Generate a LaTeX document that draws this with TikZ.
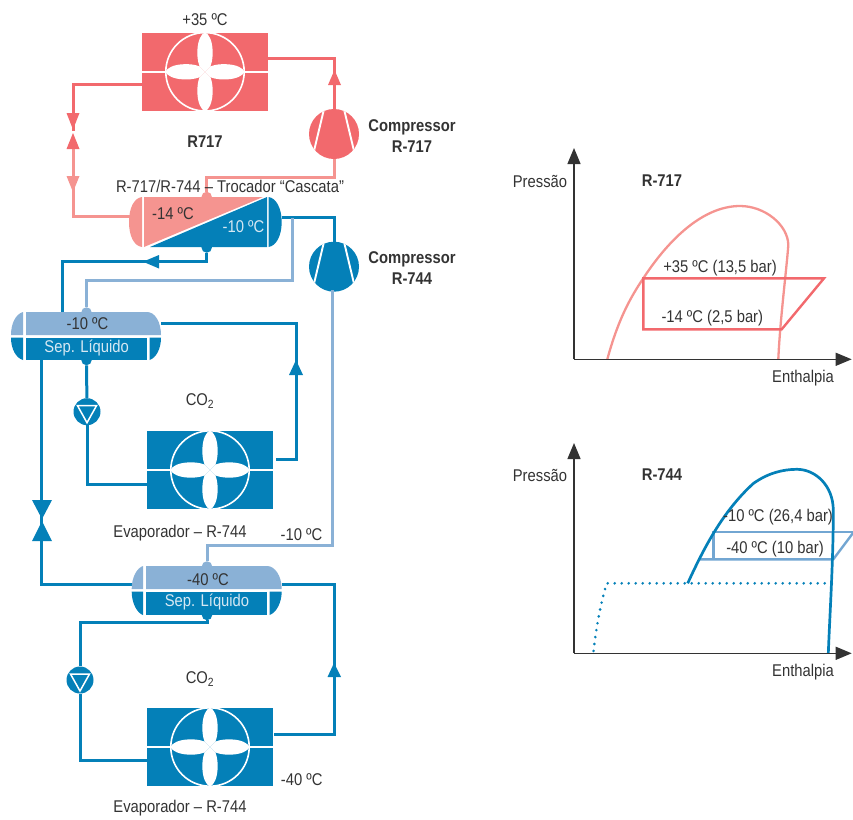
\documentclass[tikz,border=0pt]{standalone}
\usepackage{fontspec}
\setmainfont{Liberation Sans}[FakeStretch=0.87]
\usetikzlibrary{arrows.meta}
\definecolor{rd}{HTML}{F2696D}
\definecolor{rl}{HTML}{F59490}
\definecolor{bd}{HTML}{0480B8}
\definecolor{bl}{HTML}{8AB1D6}
\definecolor{cy}{HTML}{72A6D2}
\definecolor{txt}{HTML}{333333}
\definecolor{ltx}{HTML}{D6E8F3}
\tikzset{
  lbl/.style={font=\fontsize{17}{19}\selectfont,text=txt,inner sep=0pt},
  blbl/.style={font=\fontsize{17}{19}\selectfont\bfseries,text=txt,inner sep=0pt,align=center},
  wlbl/.style={lbl,text=ltx},
  pipe/.style={line width=3pt,line join=miter},
  coil/.style={fill=#1,draw=none,inner sep=0pt,minimum width=126pt,minimum height=77.6pt,rectangle},
  bump/.style={fill=#1,draw=none,circle,inner sep=0pt,minimum size=10.5pt},
  comp/.style={circle,fill=#1,draw=none,inner sep=0pt,minimum size=50pt,
    path picture={
      \draw[white,line width=1.9pt] (path picture bounding box.center)+(-9.5,-27)--+(-20.5,19);
      \draw[white,line width=1.9pt] (path picture bounding box.center)+(9.5,-27)--+(20.5,19);
    }},
  pump/.style={circle,fill=bd,draw=none,inner sep=0pt,minimum size=27pt,
    path picture={
      \draw[white,line width=1.5pt,line join=miter] (path picture bounding box.center)+(-9.5,-6)--+(9.5,-6)--+(0,11)--cycle;
    }},
  fan/.pic={
    \fill[white] (-63,-0.8) rectangle (63,0.8);
    \draw[white,line width=1.6pt,fill=#1] (0,0) circle[radius=39.2];
    \foreach \a in {0,90,180,270}{
      \fill[white,rotate=\a] (0,0) -- (-5.5,-5.5) .. controls (-7.5,-11) and (-8,-17) .. (-7.5,-23)
        .. controls (-7,-31) and (-4,-38) .. (0,-39.5)
        .. controls (4,-38) and (7,-31) .. (7.5,-23)
        .. controls (8,-17) and (7.5,-11) .. (5.5,-5.5) -- cycle;
    }
  },
}
\begin{document}
\begin{tikzpicture}[x=1pt,y=-1pt]
\useasboundingbox (0,0) rectangle (853,819);
% equipment nodes
\node[coil=rd] (cond) at (205,71.8) {};
\node[coil=bd] (evapA) at (210,470) {};
\node[coil=bd] (evapB) at (210,747) {};
\node[comp=rd] (compA) at (334,134) {};
\node[comp=bd] (compB) at (334,266.7) {};
\node[pump] (pumpA) at (87,411.7) {};
\node[pump] (pumpB) at (80,680) {};
\node[bump=rl] (exTop) at (206.7,197) {};
\node[bump=bd] (exBot) at (206.7,247.5) {};
\node[bump=bl] (sepATop) at (86.5,312.5) {};
\node[bump=bd] (sepABot) at (86.5,360) {};
\node[bump=bl] (sepBTop) at (207,566.5) {};
\node[bump=bd] (sepBBot) at (207,615) {};
% ports and corners
\coordinate (condL) at (142,84);
\coordinate (condR) at (268,58.5);
\coordinate (valveR) at (73,131);
\coordinate (valveRb) at (73,149);
\coordinate (exL) at (130,216.5);
\coordinate (exR) at (282,217.7);
\coordinate (exRb) at (292.7,218);
\coordinate (lowA) at (292.7,280.7);
\coordinate (hiA) at (206.7,177.7);
\coordinate (compBout) at (332.8,290);
\coordinate (topBl) at (332.8,545);
\coordinate (exLow) at (206.7,261.7);
\coordinate (aLiq) at (62.7,312);
\coordinate (aCorner) at (62.7,261.7);
\coordinate (sepAR) at (161,323.3);
\coordinate (riseA) at (296,459.3);
\coordinate (evapAR) at (276,459.3);
\coordinate (evapAL) at (147,484);
\coordinate (sepAL) at (41.7,360);
\coordinate (valveB) at (41.7,519);
\coordinate (sepBL) at (132,584.3);
\coordinate (sepBR) at (281.7,584.3);
\coordinate (riseB) at (334,734.3);
\coordinate (evapBR) at (273.7,734.3);
\coordinate (evapBL) at (147,760);
\coordinate (sepBLow) at (207,622.3);
\coordinate (pumpBTop) at (80,622.3);
% pipes
\draw[pipe,rd] (condL) -| (valveR);
\draw[pipe,rl] (valveRb) |- (exL);
\draw[pipe,rd] (condR) -| (compA.north);
\draw[pipe,rl] (compA.south) |- (hiA) -- (exTop);
\draw[pipe,bd] (exR) -| (compB.north);
\draw[pipe,bl] (exRb) -- (lowA) -| (sepATop);
\draw[pipe,bl] (compBout) -- (topBl) -| (sepBTop);
\draw[pipe,bd] (exBot) -- (exLow) -- (aCorner) -- (aLiq);
\draw[pipe,bd] (sepAR) -| (riseA) -- (evapAR);
\draw[pipe,bd] (sepABot) -- (pumpA);
\draw[pipe,bd] (pumpA) |- (evapAL);
\draw[pipe,bd] (sepAL) -- (valveB);
\draw[pipe,bd] (valveB) |- (sepBL);
\draw[pipe,bd] (sepBR) -| (riseB) -- (evapBR);
\draw[pipe,bd] (sepBBot) -- (sepBLow) -- (pumpBTop) -- (pumpB);
\draw[pipe,bd] (pumpB) |- (evapBL);
% arrowheads
\fill[rd] (66.5,113) -- (79.5,113) -- (73,129.5) -- cycle;
\fill[rd] (66.5,149) -- (79.5,149) -- (73,133) -- cycle;
\fill[rl] (66.5,176) -- (79.5,176) -- (73,192) -- cycle;
\fill[rd] (328,85) -- (341,85) -- (334.5,70) -- cycle;
\fill[bd] (159,255) -- (159,268.5) -- (143,261.7) -- cycle;
\fill[bd] (289,375) -- (303,375) -- (296,360) -- cycle;
\fill[bd] (327.5,677) -- (341,677) -- (334,663) -- cycle;
\fill[bd] (32,500) -- (52,500) -- (42,519) -- cycle;
\fill[bd] (32,541) -- (52,541) -- (42,521) -- cycle;
% fans
\pic at (cond) {fan=rd};
\pic at (evapA) {fan=bd};
\pic at (evapB) {fan=bd};
% cascade exchanger
\fill[rl] (142,197) .. controls (134,198) and (129,208) .. (129,222) .. controls (129,236) and (134,246) .. (142,247) -- cycle;
\fill[rl] (144,197) -- (263,197) -- (144,247) -- cycle;
\fill[bd] (150,247) -- (267,197) -- (267,247) -- cycle;
\fill[bd] (268.5,197) .. controls (276,198) and (281.7,208) .. (281.7,222) .. controls (281.7,236) and (276,246) .. (268.5,247) -- cycle;
% separator A
\fill[bl] (23,312) .. controls (16,314) and (11,323) .. (11,335) -- (23,335) -- cycle;
\fill[bl] (26,312) -- (147,312) .. controls (155,312) and (161,322) .. (161,335) -- (26,335) -- cycle;
\fill[bd] (11,337.5) .. controls (11,349) and (16,358) .. (23,360) -- (23,337.5) -- cycle;
\fill[bd] (26,337.5) rectangle (147,360);
\fill[bd] (161,337.5) .. controls (161,349) and (156,358) .. (149.5,360) -- (149.5,337.5) -- cycle;
% separator B
\fill[bl] (143,566) .. controls (137,568) and (131.7,577) .. (131.7,589) -- (143,589) -- cycle;
\fill[bl] (146,566) -- (267,566) .. controls (275,566) and (281.7,576) .. (281.7,589) -- (146,589) -- cycle;
\fill[bd] (131.7,591.5) .. controls (131.7,603) and (137,613) .. (143,615) -- (143,591.5) -- cycle;
\fill[bd] (146,591.5) rectangle (267,615);
\fill[bd] (281.7,591.5) .. controls (281.7,603) and (276,613) .. (269.5,615) -- (269.5,591.5) -- cycle;
% labels
\node[lbl] (t35) at (205,20) {+35 ºC};
\node[blbl] (r717) at (205,142) {R717};
\node[blbl] (cA) at (412,136.5) {Compressor\\[2pt]R-717};
\node[blbl] (cB) at (412,268.5) {Compressor\\[2pt]R-744};
\node[lbl] (casc) at (230,186) {R-717/R-744 – Trocador “Cascata”};
\node[lbl] (m14) at (173,214) {-14 ºC};
\node[wlbl] (m10) at (243.5,227) {-10 ºC};
\node[lbl] (sA) at (87.5,324) {-10 ºC};
\node[wlbl] (sAl) at (86.7,347.7) {Sep. Líquido};
\node[lbl] (co2A) at (200,401) {CO\textsubscript{2}};
\node[lbl] (evA) at (180,533) {Evaporador – R-744};
\node[lbl] (m10b) at (301.5,535) {-10 ºC};
\node[lbl] (sB) at (208,580) {-40 ºC};
\node[wlbl] (sBl) at (207,602) {Sep. Líquido};
\node[lbl] (co2B) at (200,679) {CO\textsubscript{2}};
\node[lbl] (m40) at (301.7,780) {-40 ºC};
\node[lbl] (evB) at (180,808) {Evaporador – R-744};
% chart R-717
\coordinate (oA) at (574,359.3);
\coordinate (yA) at (574,148);
\coordinate (xA) at (851.7,359.3);
\draw[line width=2.3pt,rl] (607.3,359.3) .. controls (618,320) and (630,298) .. (643.3,278.3)
  .. controls (665,245) and (700,206) .. (740,206)
  .. controls (765,206) and (788,225) .. (788.3,245)
  .. controls (787,265) and (780,320) .. (778.3,359.3);
\draw[line width=2.4pt,rd,line join=miter] (643.3,278.3) -- (824,278.3) -- (781.7,329.3) -- (643.3,329.3) -- cycle;
\draw[line width=1.3pt,txt,-{Triangle[length=16pt,width=13pt]}] (oA) -- (yA);
\draw[line width=1.3pt,txt,-{Triangle[length=16pt,width=13pt]}] (oA) -- (xA);
\node[lbl] (pA) at (540,181) {Pressão};
\node[blbl] (tA) at (662,181) {R-717};
\node[lbl] (hA) at (803,378) {Enthalpia};
\node[lbl] (a1) at (720,268) {+35 ºC (13,5 bar)};
\node[lbl] (a2) at (712.3,318.3) {-14 ºC (2,5 bar)};
% chart R-744
\coordinate (oB) at (574,653.3);
\coordinate (yB) at (574,443);
\coordinate (xB) at (851.7,653.3);
\draw[line width=2.4pt,cy,line join=miter] (699,559.3) -- (833.3,559.3) -- (853,533);
\draw[line width=2.4pt,cy,line join=miter] (853,531.7) -- (713.3,531.7) -- (713.3,559.3);
\draw[line width=2.7pt,bd] (687.7,583.3) .. controls (703,550) and (722,512) .. (753.3,483.5)
  .. controls (768,473) and (783,469.3) .. (797,469.3)
  .. controls (815,469.3) and (833,485) .. (833.3,510)
  .. controls (833.3,560) and (830,610) .. (828.3,653.3);
\draw[line width=2.9pt,bd,line cap=round,dash pattern=on 0pt off 7pt] (831.7,583.3) -- (606.7,583.3) .. controls (603,595) and (597,620) .. (593.3,652.7);
\draw[line width=1.3pt,txt,-{Triangle[length=16pt,width=13pt]}] (oB) -- (yB);
\draw[line width=1.3pt,txt,-{Triangle[length=16pt,width=13pt]}] (oB) -- (xB);
\node[lbl] (pB) at (540,475) {Pressão};
\node[blbl] (tB) at (662,475) {R-744};
\node[lbl] (hB) at (803,672) {Enthalpia};
\node[lbl] (b1) at (778,517) {-10 ºC (26,4 bar)};
\node[lbl] (b2) at (775,549) {-40 ºC (10 bar)};
\end{tikzpicture}
\end{document}
